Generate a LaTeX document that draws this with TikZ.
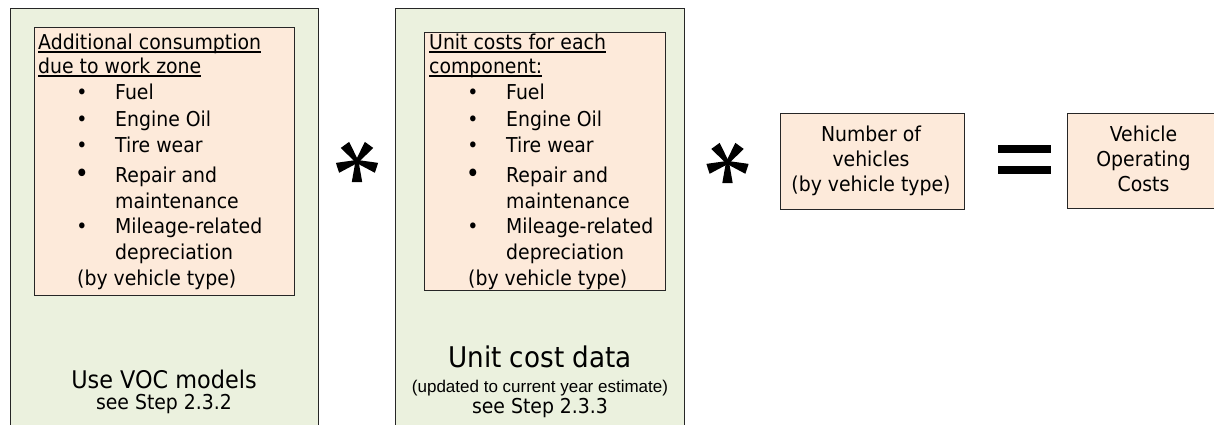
\documentclass[tikz,border=0pt]{standalone}
\usepackage{fontspec}
\setmainfont{DejaVu Sans}[FakeStretch=0.92]
\newfontfamily\arialfont{Liberation Sans}
% underline that sits just under the baseline
\newcommand\ulx[1]{\setbox0\hbox{#1}\rlap{\rule[-2.6pt]{\wd0}{1.2pt}}\box0}
\definecolor{olivebg}{HTML}{EBF1DE}
\definecolor{peachbg}{HTML}{FDEADA}
\definecolor{edge}{HTML}{262626}

\begin{document}
\begin{tikzpicture}[x=1pt,y=-1pt,
  panel/.style={draw=edge,line width=1.4pt,fill=olivebg,anchor=north west,inner sep=0pt},
  card/.style={draw=edge,line width=1pt,fill=peachbg,anchor=north west,inner sep=0pt},
  body/.style={inner sep=0pt,anchor=base west,font=\fontsize{20.5}{24}\selectfont},
  midtext/.style={inner sep=0pt,anchor=base,font=\fontsize{20.5}{24}\selectfont},
  dot/.style={inner sep=0pt,anchor=base,font=\fontsize{20.5}{24}\selectfont},
  bigdot/.style={inner sep=0pt,anchor=base,font=\fontsize{26}{30}\selectfont},
  title/.style={inner sep=0pt,anchor=base},
  % five flat-ended wedge spokes, one pointing straight up
  asterisk/.pic={
    \foreach \a in {-90,-18,-162,54,126}
      \fill[black,rotate=\a,line join=round] (0,-1.6) -- (20.5,-5.2) -- (20.5,5.2) -- (0,1.6) -- cycle;
    \fill[black] (0,0) circle[radius=3];
  }]
\useasboundingbox (0,0) rectangle (1214,425);
\clip (0,0) rectangle (1214,425);

% ---- first factor: consumption from VOC models ----
\node[panel,minimum width=308pt,minimum height=440pt] (voc) at (10,8) {};
\node[card,minimum width=260pt,minimum height=268pt] (cons) at (34,27) {};
\node[body] (c1) at (38,50) {\ulx{Additional consumption}};
\node[body] (c2) at (38,74) {\ulx{due to work zone}};
\node[dot] (cb1) at (82,100) {•};
\node[body] (ci1) at (115,100) {Fuel};
\node[dot] (cb2) at (82,126.5) {•};
\node[body] (ci2) at (115,126.5) {Engine Oil};
\node[dot] (cb3) at (82,152) {•};
\node[body] (ci3) at (115,152) {Tire wear};
\node[bigdot] (cb4) at (82,182) {•};
\node[body] (ci4) at (115,182) {Repair and};
\node[body] (ci4b) at (115,208) {maintenance};
\node[dot] (cb5) at (82,233) {•};
\node[body] (ci5) at (115,233) {Mileage-related};
\node[body] (ci5b) at (115,259) {depreciation};
\node[body] (ctype) at (77,285) {(by vehicle type)};
\node[title,font=\fontsize{24.3}{28}\selectfont] (voct) at (164,388) {Use VOC models};
\node[midtext] (vocs) at (164,409) {see Step 2.3.2};

% ---- operator ----
\pic at (357,161.5) {asterisk};

% ---- second factor: unit costs ----
\node[panel,minimum width=289pt,minimum height=440pt] (unit) at (395,8) {};
\node[card,minimum width=241pt,minimum height=258pt] (costs) at (424,32) {};
\node[body] (u1) at (429,50) {\ulx{Unit costs for each}};
\node[body] (u2) at (429,74) {\ulx{component:}};
\node[dot] (ub1) at (473,100) {•};
\node[body] (ui1) at (506,100) {Fuel};
\node[dot] (ub2) at (473,126.5) {•};
\node[body] (ui2) at (506,126.5) {Engine Oil};
\node[dot] (ub3) at (473,152) {•};
\node[body] (ui3) at (506,152) {Tire wear};
\node[bigdot] (ub4) at (473,182) {•};
\node[body] (ui4) at (506,182) {Repair and};
\node[body] (ui4b) at (506,208) {maintenance};
\node[dot] (ub5) at (473,233) {•};
\node[body] (ui5) at (506,233) {Mileage-related};
\node[body] (ui5b) at (506,259) {depreciation};
\node[body] (utype) at (468,285) {(by vehicle type)};
\node[title,font=\fontsize{28.5}{32}\selectfont] (unitt) at (540,367) {Unit cost data};
\node[title,font=\arialfont\fontsize{17}{20}\selectfont] (unitn) at (540,392) {(updated to current year estimate)};
\node[midtext] (units) at (540,413) {see Step 2.3.3};

% ---- operator ----
\pic at (727.5,162.5) {asterisk};

% ---- third factor: vehicle counts ----
\node[card,minimum width=184pt,minimum height=96pt] (count) at (780,113) {};
\node[midtext] (n1) at (871,141.5) {Number of};
\node[midtext] (n2) at (871,166.5) {vehicles};
\node[midtext] (n3) at (871,191.5) {(by vehicle type)};

% ---- equals sign ----
\fill[black] (998,145) rectangle (1051,153);
\fill[black] (998,166) rectangle (1051,174);

% ---- result ----
\node[card,minimum width=170pt,minimum height=95pt] (result) at (1067,113) {};
\node[midtext] (r1) at (1143.5,141.5) {Vehicle};
\node[midtext] (r2) at (1143.5,166.5) {Operating};
\node[midtext] (r3) at (1143.5,191.5) {Costs};
\end{tikzpicture}
\end{document}
